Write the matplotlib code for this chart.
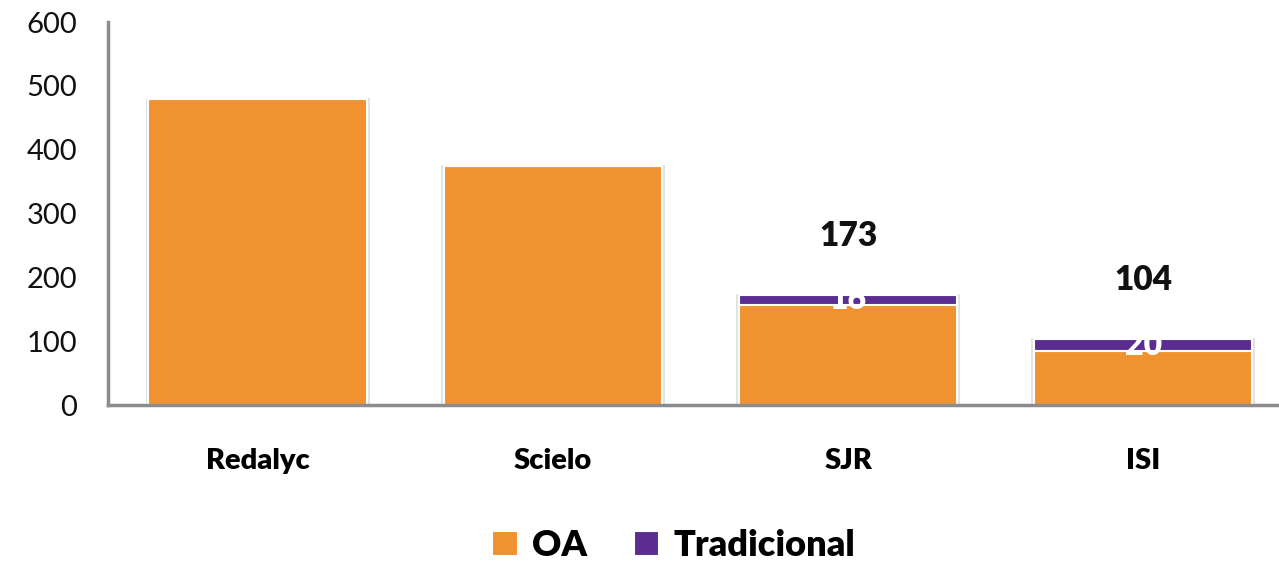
import numpy as np
import matplotlib
matplotlib.use('Agg')
import matplotlib.pyplot as plt

# data
categories = ['Redalyc', 'Scielo', 'SJR', 'ISI']
oa = [480, 375, 157, 84]
tradicional = [0, 0, 16, 20]
totals = ['', '', '173', '104']

orange = '#F0922F'
purple = '#5B2D90'

plt.rcParams['font.family'] = ['Lato', 'DejaVu Sans']

fig = plt.figure(figsize=(12.79, 5.65), dpi=100)
ax = fig.add_axes([0.0844, 0.283, 0.9156, 0.678])

x = np.arange(len(categories))
w = 0.74
b1 = ax.bar(x, oa, w, color=orange, edgecolor='white', linewidth=1.5, label='OA')
b2 = ax.bar(x, tradicional, w, bottom=oa, color=purple, edgecolor='white',
            linewidth=1.5, label='Tradicional')
# faint grey shadow round the bars
for i in range(len(categories)):
    ax.bar(x[i], oa[i] + tradicional[i], w + 0.012, color='none',
           edgecolor='#dddddd', linewidth=1.2, zorder=0.5)

# white numbers on the purple part, totals above
for i in range(len(categories)):
    if tradicional[i] > 0:
        ax.text(x[i], oa[i] + tradicional[i] / 2.0, str(tradicional[i]),
                ha='center', va='center', color='white', fontsize=23,
                fontweight='heavy')
    if totals[i]:
        ax.annotate(totals[i], xy=(x[i], oa[i] + tradicional[i]),
                    xytext=(0, 42), textcoords='offset points',
                    ha='center', va='center', fontsize=24, fontweight='heavy',
                    color='#111111')

ax.set_ylim(0, 600)
ax.set_xlim(-0.507, 3.46)
ax.set_yticks(range(0, 700, 100))
ax.set_xticks(x)
ax.set_xticklabels(categories, fontsize=21, fontweight='heavy')
ax.tick_params(axis='y', labelsize=21, length=0, pad=22, labelcolor='#111111')
ax.tick_params(axis='x', length=0, pad=31)

for s in ['top', 'right']:
    ax.spines[s].set_visible(False)
for s in ['left', 'bottom']:
    ax.spines[s].set_color('#8c8c8c')
    ax.spines[s].set_linewidth(2.5)

leg = fig.legend(handles=[b1, b2], loc='center', bbox_to_anchor=(0.527, 0.034),
                 ncol=2, frameon=False, fontsize=26, handlelength=0.7,
                 handleheight=0.7, handletextpad=0.4, columnspacing=1.3)
for t in leg.get_texts():
    t.set_fontweight('heavy')

plt.savefig('out.png', dpi=100)
